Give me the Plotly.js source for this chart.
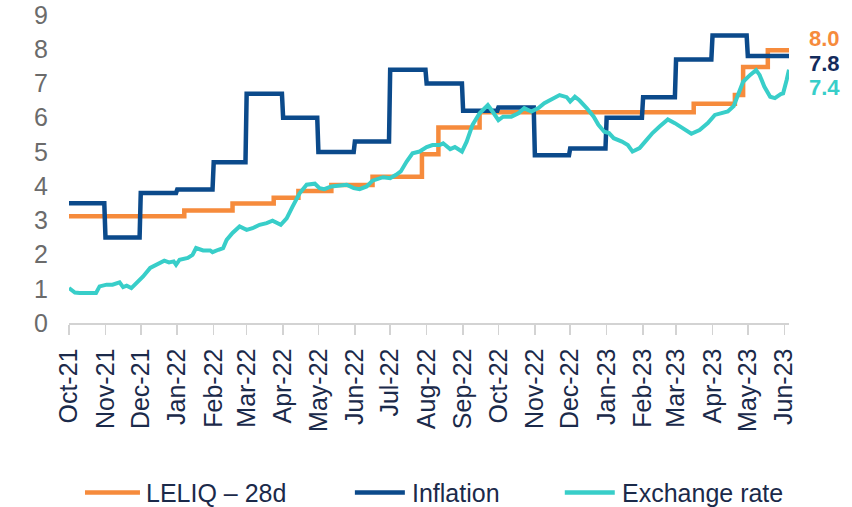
<!DOCTYPE html>
<html>
<head>
<meta charset="utf-8">
<script src="https://cdn.plot.ly/plotly-3.0.1.min.js"></script>
<style>
html,body{margin:0;padding:0;background:#fff;}
#chart{width:852px;height:507px;}
</style>
</head>
<body>
<div id="chart"></div>
<script>
// ---------- DATA ----------
// Inflation (monthly %, held for the month)
const inflMonths = ['2021-10','2021-11','2021-12','2022-01','2022-02','2022-03','2022-04','2022-05','2022-06','2022-07',
                    '2022-08','2022-09','2022-10','2022-11','2022-12','2023-01','2023-02','2023-03','2023-04','2023-05'];
const inflValues = [3.5,2.5,3.8,3.9,4.7,6.7,6.0,5.0,5.3,7.4,7.0,6.2,6.3,4.9,5.1,6.0,6.6,7.7,8.4,7.8];

// LELIQ 28d (monthly equivalent %), step changes
const leliqDates  = ['2021-10-01','2022-01-07','2022-02-17','2022-03-24','2022-04-14','2022-05-12','2022-06-16',
                     '2022-07-28','2022-08-11','2022-09-15','2023-03-16','2023-04-20','2023-04-27','2023-05-18','2023-06-05'];
const leliqValues = [3.12,3.29,3.49,3.66,3.86,4.03,4.27,4.93,5.71,6.16,6.41,6.66,7.48,7.97,7.97];

// Exchange rate (monthly depreciation %)
const fxDates = ['2021-10-01','2021-10-06','2021-10-10','2021-10-18','2021-10-24','2021-10-27','2021-11-02','2021-11-07',
  '2021-11-13','2021-11-16','2021-11-19','2021-11-23','2021-11-29','2021-12-03','2021-12-09','2021-12-15','2021-12-21',
  '2021-12-25','2021-12-29','2021-12-31','2022-01-03','2022-01-10','2022-01-14','2022-01-17','2022-01-23','2022-01-29',
  '2022-01-31','2022-02-05','2022-02-09','2022-02-12','2022-02-17','2022-02-23','2022-03-01','2022-03-06','2022-03-12',
  '2022-03-18','2022-03-23','2022-03-30','2022-04-04','2022-04-09','2022-04-15','2022-04-21','2022-04-28','2022-05-02',
  '2022-05-06','2022-05-12','2022-05-19','2022-05-25','2022-05-31','2022-06-05','2022-06-11','2022-06-16','2022-06-25',
  '2022-07-01','2022-07-06','2022-07-10','2022-07-15','2022-07-20','2022-07-26','2022-08-01','2022-08-06','2022-08-12',
  '2022-08-15','2022-08-19','2022-08-21','2022-08-25','2022-08-31','2022-09-04','2022-09-09','2022-09-15','2022-09-22',
  '2022-09-26','2022-10-01','2022-10-05','2022-10-12','2022-10-18','2022-10-23','2022-10-29','2022-11-04','2022-11-09',
  '2022-11-15','2022-11-22','2022-11-28','2022-12-01','2022-12-05','2022-12-09','2022-12-15','2022-12-21','2022-12-25',
  '2022-12-30','2023-01-03','2023-01-07','2023-01-14','2023-01-19','2023-01-23','2023-01-29','2023-02-04','2023-02-09',
  '2023-02-15','2023-02-22','2023-02-28','2023-03-07','2023-03-14','2023-03-21','2023-03-28','2023-04-03','2023-04-09',
  '2023-04-14','2023-04-19','2023-04-23','2023-04-27','2023-05-03','2023-05-08','2023-05-11','2023-05-15','2023-05-20',
  '2023-05-24','2023-05-29','2023-05-31','2023-06-03','2023-06-05'];
const fxValues = [1.02,0.89,0.88,0.89,0.88,1.07,1.12,1.12,
  1.19,1.05,1.09,1.02,1.21,1.36,1.61,1.70,1.82,
  1.77,1.80,1.70,1.85,1.90,1.99,2.19,2.12,2.12,
  2.07,2.14,2.19,2.43,2.63,2.82,2.72,2.77,2.87,
  2.92,2.99,2.87,3.06,3.40,3.79,4.04,4.07,3.94,
  3.91,3.99,4.01,4.04,3.94,3.91,3.99,4.16,4.26,
  4.23,4.33,4.43,4.72,4.96,5.01,5.14,5.20,5.20,
  5.25,5.11,5.08,5.14,5.01,5.30,5.79,6.13,6.37,
  6.18,5.93,6.03,6.03,6.13,6.28,6.18,6.28,6.42,
  6.52,6.66,6.60,6.47,6.61,6.50,6.28,6.03,5.79,
  5.59,5.55,5.40,5.30,5.20,5.01,5.11,5.35,5.55,
  5.74,5.95,5.84,5.69,5.53,5.64,5.84,6.08,6.15,
  6.18,6.34,6.71,7.05,7.25,7.39,7.25,6.91,6.61,
  6.57,6.69,6.71,7.10,7.40];

const seriesNames = ['LELIQ – 28d','Inflation','Exchange rate'];
const lastLabels = ['8.0','7.8','7.4'];
const axisStart = '2021-10-01';
const axisEnd = '2023-06-05';

// ---------- STYLE ----------
const C_OR = '#F68B3C', C_NV = '#0B4A8B', C_TL = '#38CEC9';
const C_TXT = '#1B2A4A', C_NV_TXT = '#132B5C';
const FONT = 'Arial, "Liberation Sans", sans-serif';

// build inflation step path: hold each month's value from 1st to last day
function addDays(s, n){ const d = new Date(s + 'T00:00:00Z'); d.setUTCDate(d.getUTCDate()+n); return d.toISOString().slice(0,10); }
function nextMonth(m){ let [y,mo] = m.split('-').map(Number); mo++; if(mo>12){mo=1;y++;} return y + '-' + String(mo).padStart(2,'0') + '-01'; }
const inflX = [], inflY = [];
inflMonths.forEach((m,i)=>{
  const start = m + '-01';
  let end = addDays(nextMonth(m), -1);
  if (end > axisEnd || i === inflMonths.length-1) end = axisEnd;
  inflX.push(start, end); inflY.push(inflValues[i], inflValues[i]);
});

const traces = [
  {x: leliqDates, y: leliqValues, mode:'lines', line:{color:C_OR, width:4.5, shape:'hv'}, name:seriesNames[0], hoverinfo:'skip'},
  {x: inflX, y: inflY, mode:'lines', line:{color:C_NV, width:4.5, shape:'linear'}, name:seriesNames[1], hoverinfo:'skip'},
  {x: fxDates, y: fxValues, mode:'lines', line:{color:C_TL, width:4, shape:'linear'}, name:seriesNames[2], hoverinfo:'skip'}
];

// pixel -> paper helpers (plot area: x 69..789.3, y 15..323.3)
const PL = 69, PR = 789.3, PT = 15, PB = 323.3;
const px = v => (v - PL)/(PR - PL);
const py = v => (PB - v)/(PB - PT);

const shapes = [], annotations = [];
// custom legend
const legLines = [[85,140],[355,405],[565,615]];
const legText = [144,410,620];
const legColors = [C_OR, C_NV, C_TL];
const LEGY = 493;
seriesNames.forEach((n,i)=>{
  shapes.push({type:'line', xref:'paper', yref:'paper', x0:px(legLines[i][0]), x1:px(legLines[i][1]), y0:py(LEGY), y1:py(LEGY),
               line:{color:legColors[i], width:4.5}});
  annotations.push({xref:'paper', yref:'paper', x:px(legText[i]), y:py(LEGY), xanchor:'left', yanchor:'middle',
                    text:n, showarrow:false, font:{family:FONT, size:25, color:C_TXT}});
});
// end labels
const endY = [39, 64, 88];
const endColors = [C_OR, C_NV_TXT, C_TL];
lastLabels.forEach((t,i)=>{
  annotations.push({xref:'paper', yref:'paper', x:px(807), y:py(endY[i]), xanchor:'left', yanchor:'middle',
                    text:'<b>'+t+'</b>', showarrow:false, font:{family:FONT, size:22, color:endColors[i]}});
});

const layout = {
  width:852, height:507,
  margin:{l:PL, r:852-PR, t:PT, b:507-PB, pad:0},
  paper_bgcolor:'#fff', plot_bgcolor:'#fff',
  showlegend:false,
  font:{family:FONT},
  xaxis:{
    type:'date', range:[axisStart, axisEnd],
    tick0:'2021-10-01', dtick:'M1', tickformat:'%b-%y', tickangle:-90,
    ticks:'outside', ticklen:10, tickwidth:1.5, tickcolor:'#D3D3D3',
    showline:true, linecolor:'#D3D3D3', linewidth:1.5,
    showgrid:false, zeroline:false,
    tickfont:{family:FONT, size:25, color:C_TXT},
    ticklabelstandoff:4
  },
  yaxis:{
    range:[0,9], dtick:1, tick0:0,
    showgrid:false, zeroline:false, showline:false, ticks:'',
    tickfont:{family:FONT, size:25, color:'#6B6B6B'},
    ticklabelstandoff:20
  },
  shapes:shapes, annotations:annotations
};

Plotly.newPlot('chart', traces, layout, {staticPlot:true, displayModeBar:false});
</script>
</body>
</html>
